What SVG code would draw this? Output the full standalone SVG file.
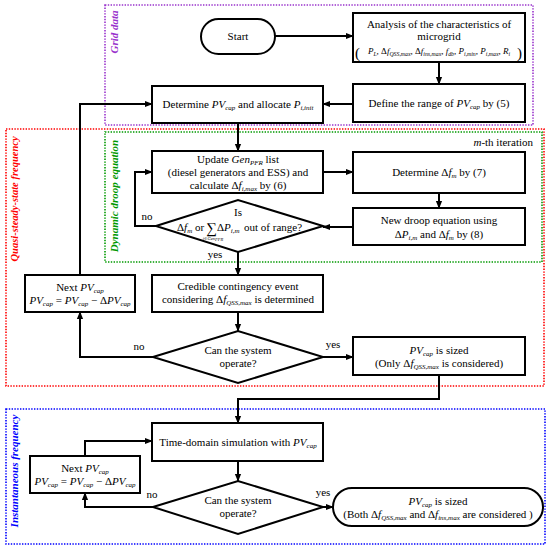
<svg xmlns="http://www.w3.org/2000/svg" width="550" height="550" viewBox="0 0 550 550">
<style>
.bx{fill:#fff;stroke:#000;stroke-width:2}
.c{fill:none;stroke:#000;stroke-width:2;marker-end:url(#ah)}
.reg{fill:none;stroke-width:1.6;stroke-dasharray:1.4 1.4}
text{font-family:'Liberation Serif','Times New Roman','DejaVu Serif','Noto Serif',serif;font-size:11px;fill:#000}
.m{text-anchor:middle}
.i{font-style:italic}
.sb{font-size:7px;font-style:italic}
.f9{font-size:9px}
.s6{font-size:5.8px}
.lab{font-weight:bold;font-style:italic;font-size:11px;text-anchor:middle}
</style>
<defs>
<marker id="ah" viewBox="0 0 10 10" refX="9" refY="5" markerWidth="8" markerHeight="8" markerUnits="userSpaceOnUse" orient="auto"><path d="M0,1 L10,5 L0,9 Z" fill="#000"/></marker>
</defs>

<g id="regions">
<rect class="reg" x="105" y="5" width="428" height="120" stroke="#9933cc"/>
<rect class="reg" x="6" y="129" width="538" height="257" stroke="#ff0000"/>
<rect class="reg" x="105" y="132" width="437" height="130" stroke="#009900"/>
<rect class="reg" x="6" y="409" width="539" height="135" stroke="#0000ff"/>
<text class="lab" transform="translate(118,32) rotate(-90)" style="fill:#9933cc">Grid data</text>
<text class="lab" transform="translate(18,199) rotate(-90)" style="fill:#ff0000;font-size:10.5px">Quasi-steady-state frequency</text>
<text class="lab" transform="translate(118,196) rotate(-90)" style="fill:#009900">Dynamic droop equation</text>
<text class="lab" transform="translate(18,471) rotate(-90)" style="fill:#0000ff">Instantaneous frequency</text>
<text x="533" y="146" style="text-anchor:end"><tspan class="i">m</tspan>-th iteration</text>
</g>

<g id="connectors">
<path class="c" d="M275,36 H353"/>
<path class="c" d="M439,62 V84"/>
<path class="c" d="M353,104 H323"/>
<path class="c" d="M238,123 V151"/>
<path class="c" d="M323,172 H353"/>
<path class="c" d="M439,193 V208"/>
<path class="c" d="M353,227 H323"/>
<path class="c" d="M156,226 H135 V172 H152"/>
<path class="c" d="M238,252 V275"/>
<path class="c" d="M238,312 V331"/>
<path class="c" d="M153,357 H80 V312"/>
<path class="c" d="M80,275 V104 H152"/>
<path class="c" d="M323,357 H353"/>
<path class="c" d="M439,375 V399 H238 V423"/>
<path class="c" d="M238,461 V481"/>
<path class="c" d="M153,507 H85 V493"/>
<path class="c" d="M85,456 V441 H152"/>
<path class="c" d="M323,507 H333"/>
<text class="m" x="147" y="220">no</text>
<text class="m" x="215" y="258">yes</text>
<text class="m" x="139" y="350">no</text>
<text class="m" x="333" y="348">yes</text>
<text class="m" x="152" y="498">no</text>
<text class="m" x="323" y="496">yes</text>
</g>

<g id="start">
<rect class="bx" x="201" y="19" width="74" height="35" rx="17.5"/>
<text class="m" x="238" y="40">Start</text>
</g>

<g id="analysis">
<rect class="bx" x="353" y="13" width="172" height="49"/>
<text class="m" x="439" y="28">Analysis of the characteristics of</text>
<text class="m" x="439" y="40">microgrid</text>
<text x="355" y="58" style="font-size:15px">(</text>
<text x="517" y="58" style="font-size:15px">)</text>
<text class="m f9" x="439" y="54"><tspan class="i">P</tspan><tspan class="sb s6" dy="2">L</tspan><tspan dy="-2">, Δ</tspan><tspan class="i">f</tspan><tspan class="sb s6" dy="2">QSS,max</tspan><tspan dy="-2">, Δ</tspan><tspan class="i">f</tspan><tspan class="sb s6" dy="2">ins,max</tspan><tspan dy="-2">, </tspan><tspan class="i">f</tspan><tspan class="sb s6" dy="2">db</tspan><tspan dy="-2">, </tspan><tspan class="i">P</tspan><tspan class="sb s6" dy="2">i,min</tspan><tspan dy="-2">, </tspan><tspan class="i">P</tspan><tspan class="sb s6" dy="2">i,max</tspan><tspan dy="-2">, </tspan><tspan class="i">R</tspan><tspan class="sb s6" dy="2">i</tspan></text>
</g>

<g id="define">
<rect class="bx" x="353" y="84" width="172" height="38"/>
<text class="m" x="439" y="107">Define the range of <tspan class="i">PV</tspan><tspan class="sb" dy="2">cap</tspan><tspan dy="-2"> by (5)</tspan></text>
</g>

<g id="determine">
<rect class="bx" x="152" y="86" width="171" height="37"/>
<text class="m" x="238" y="108">Determine <tspan class="i">PV</tspan><tspan class="sb" dy="2">cap</tspan><tspan dy="-2"> and allocate </tspan><tspan class="i">P</tspan><tspan class="sb" dy="2">i,init</tspan></text>
</g>

<g id="update">
<rect class="bx" x="152" y="151" width="171" height="42"/>
<text class="m" x="238" y="163">Update <tspan class="i">Gen</tspan><tspan class="sb" dy="2">PFR</tspan><tspan dy="-2"> list</tspan></text>
<text class="m" x="238" y="176">(diesel generators and ESS) and</text>
<text class="m" x="238" y="189">calculate Δ<tspan class="i">f</tspan><tspan class="sb" dy="2">i,max</tspan><tspan dy="-2"> by (6)</tspan></text>
</g>

<g id="determine-dfm">
<rect class="bx" x="353" y="152" width="172" height="41"/>
<text class="m" x="439" y="176">Determine Δ<tspan class="i">f</tspan><tspan class="sb" dy="2">m</tspan><tspan dy="-2"> by (7)</tspan></text>
</g>

<g id="new-droop">
<rect class="bx" x="353" y="208" width="172" height="37"/>
<text class="m" x="439" y="224">New droop equation using</text>
<text class="m" x="439" y="238">Δ<tspan class="i">P</tspan><tspan class="sb" dy="2">i,m</tspan><tspan dy="-2"> and Δ</tspan><tspan class="i">f</tspan><tspan class="sb" dy="2">m</tspan><tspan dy="-2"> by (8)</tspan></text>
</g>

<g id="range-check">
<polygon class="bx" points="156,226 238,200 323,226 238,252"/>
<text class="m" x="238" y="216">Is</text>
<text x="177" y="231">Δ<tspan class="i">f</tspan><tspan class="sb" dy="2">m</tspan><tspan dy="-2"> or</tspan></text>
<text x="206" y="233" style="font-size:15px">∑</text>
<text class="m" x="213" y="240" style="font-size:4.5px;font-style:italic">i∈Gen<tspan dy="1">PFR</tspan></text>
<text x="217" y="231">Δ<tspan class="i">P</tspan><tspan class="sb" dy="2">i,m</tspan></text>
<text x="244" y="231">out of range?</text>
</g>

<g id="credible">
<rect class="bx" x="152" y="275" width="171" height="37"/>
<text class="m" x="238" y="290">Credible contingency event</text>
<text class="m" x="238" y="303">considering Δ<tspan class="i">f</tspan><tspan class="sb" dy="2">QSS,max</tspan><tspan dy="-2"> is determined</tspan></text>
</g>

<g id="next-qss">
<rect class="bx" x="25" y="275" width="110" height="37"/>
<text class="m" x="80" y="291">Next <tspan class="i">PV</tspan><tspan class="sb" dy="2">cap</tspan></text>
<text class="m" x="80" y="304"><tspan class="i">PV</tspan><tspan class="sb" dy="2">cap</tspan><tspan dy="-2"> = </tspan><tspan class="i">PV</tspan><tspan class="sb" dy="2">cap</tspan><tspan dy="-2"> − Δ</tspan><tspan class="i">PV</tspan><tspan class="sb" dy="2">cap</tspan></text>
</g>

<g id="operate-qss">
<polygon class="bx" points="153,357 238,331 323,357 238,383"/>
<text class="m" x="238" y="354">Can the system</text>
<text class="m" x="238" y="367">operate?</text>
</g>

<g id="sized-qss">
<rect class="bx" x="353" y="337" width="172" height="38"/>
<text class="m" x="439" y="354"><tspan class="i">PV</tspan><tspan class="sb" dy="2">cap</tspan><tspan dy="-2"> is sized</tspan></text>
<text class="m" x="439" y="367">(Only Δ<tspan class="i">f</tspan><tspan class="sb" dy="2">QSS,max</tspan><tspan dy="-2"> is considered)</tspan></text>
</g>

<g id="time-domain">
<rect class="bx" x="152" y="423" width="171" height="38"/>
<text class="m" x="238" y="446">Time-domain simulation with <tspan class="i">PV</tspan><tspan class="sb" dy="2">cap</tspan></text>
</g>

<g id="next-ins">
<rect class="bx" x="30" y="456" width="110" height="37"/>
<text class="m" x="85" y="472">Next <tspan class="i">PV</tspan><tspan class="sb" dy="2">cap</tspan></text>
<text class="m" x="85" y="485"><tspan class="i">PV</tspan><tspan class="sb" dy="2">cap</tspan><tspan dy="-2"> = </tspan><tspan class="i">PV</tspan><tspan class="sb" dy="2">cap</tspan><tspan dy="-2"> − Δ</tspan><tspan class="i">PV</tspan><tspan class="sb" dy="2">cap</tspan></text>
</g>

<g id="operate-ins">
<polygon class="bx" points="153,507 238,481 323,507 238,534"/>
<text class="m" x="238" y="504">Can the system</text>
<text class="m" x="238" y="517">operate?</text>
</g>

<g id="sized-final">
<rect class="bx" x="333" y="488" width="210" height="38" rx="19"/>
<text class="m" x="438" y="505"><tspan class="i">PV</tspan><tspan class="sb" dy="2">cap</tspan><tspan dy="-2"> is sized</tspan></text>
<text class="m" x="438" y="518">(Both Δ<tspan class="i">f</tspan><tspan class="sb" dy="2">QSS,max</tspan><tspan dy="-2"> and Δ</tspan><tspan class="i">f</tspan><tspan class="sb" dy="2">ins,max</tspan><tspan dy="-2"> are considered )</tspan></text>
</g>
</svg>
